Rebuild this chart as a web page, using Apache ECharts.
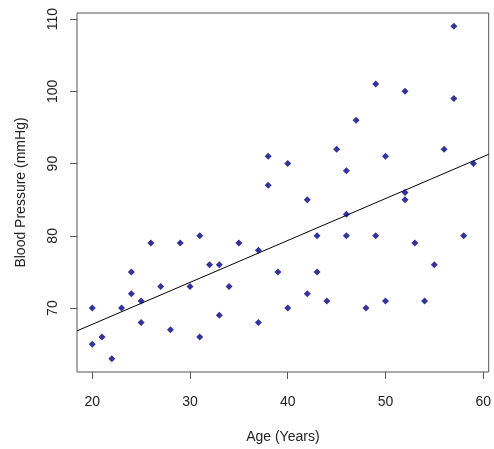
<!DOCTYPE html>
<html><head><meta charset="utf-8">
<script src="https://cdn.jsdelivr.net/npm/echarts@6/dist/echarts.min.js"></script>
<style>html,body{margin:0;padding:0;background:#fff}#c{width:494px;height:449px}</style>
</head><body><div id="c"></div>
<script>
var ages = [20,20,21,22,23,24,24,25,25,26,27,28,29,30,31,31,32,33,33,34,35,37,37,38,38,39,40,40,42,42,43,43,44,45,46,46,46,47,48,49,49,50,50,52,52,52,53,54,55,56,57,57,58,59];
var pressures = [70,65,66,63,70,75,72,71,68,79,73,67,79,73,80,66,76,76,69,73,79,78,68,91,87,75,90,70,85,72,80,75,71,92,89,83,80,96,70,101,80,91,71,100,86,85,79,71,76,92,109,99,80,90];
var xTicks = [20,30,40,50,60];
var yTicks = [70,80,90,100,110];

// least-squares fit line through the data
var n = ages.length, sx=0, sy=0, sxx=0, sxy=0;
for (var i=0;i<n;i++){sx+=ages[i];sy+=pressures[i];sxx+=ages[i]*ages[i];sxy+=ages[i]*pressures[i];}
var slope = (n*sxy - sx*sy)/(n*sxx - sx*sx);
var icpt = (sy - slope*sx)/n;

var xMin = 18.44, xMax = 60.56, yMin = 61.16, yMax = 110.84;
var pts = ages.map(function(a,i){return [a,pressures[i]];});
var fit = [[xMin, icpt+slope*xMin],[xMax, icpt+slope*xMax]];

var font = 'Liberation Sans, Arial, sans-serif';
var chart = echarts.init(document.getElementById('c'));
chart.setOption({
  animation:false,
  grid:{left:77,right:1,top:13,bottom:72,show:true,borderColor:'#555',borderWidth:1,backgroundColor:'transparent'},
  xAxis:{type:'value',min:xMin,max:xMax,
    name:'Age (Years)',nameLocation:'middle',nameGap:58,
    nameTextStyle:{fontFamily:font,fontSize:14,color:'#222'},
    axisLine:{show:false},splitLine:{show:false},
    axisTick:{show:true,inside:false,length:7,lineStyle:{color:'#555'},customValues:xTicks},
    axisLabel:{margin:23,fontFamily:font,fontSize:14,color:'#222',customValues:xTicks}
  },
  yAxis:{type:'value',min:yMin,max:yMax,
    name:'Blood Pressure (mmHg)',nameLocation:'middle',nameGap:49,nameRotate:90,
    nameTextStyle:{fontFamily:font,fontSize:14,color:'#222'},
    axisLine:{show:false},splitLine:{show:false},
    axisTick:{show:true,inside:false,length:7,lineStyle:{color:'#555'},customValues:yTicks},
    axisLabel:{margin:17,rotate:90,fontFamily:font,fontSize:14,color:'#222',customValues:yTicks}
  },
  series:[
    {type:'scatter',data:pts,symbol:'diamond',symbolSize:7,itemStyle:{color:'#000080'},z:3},
    {type:'line',data:fit,symbol:'none',lineStyle:{color:'#000',width:1},z:2}
  ]
});
</script></body></html>
